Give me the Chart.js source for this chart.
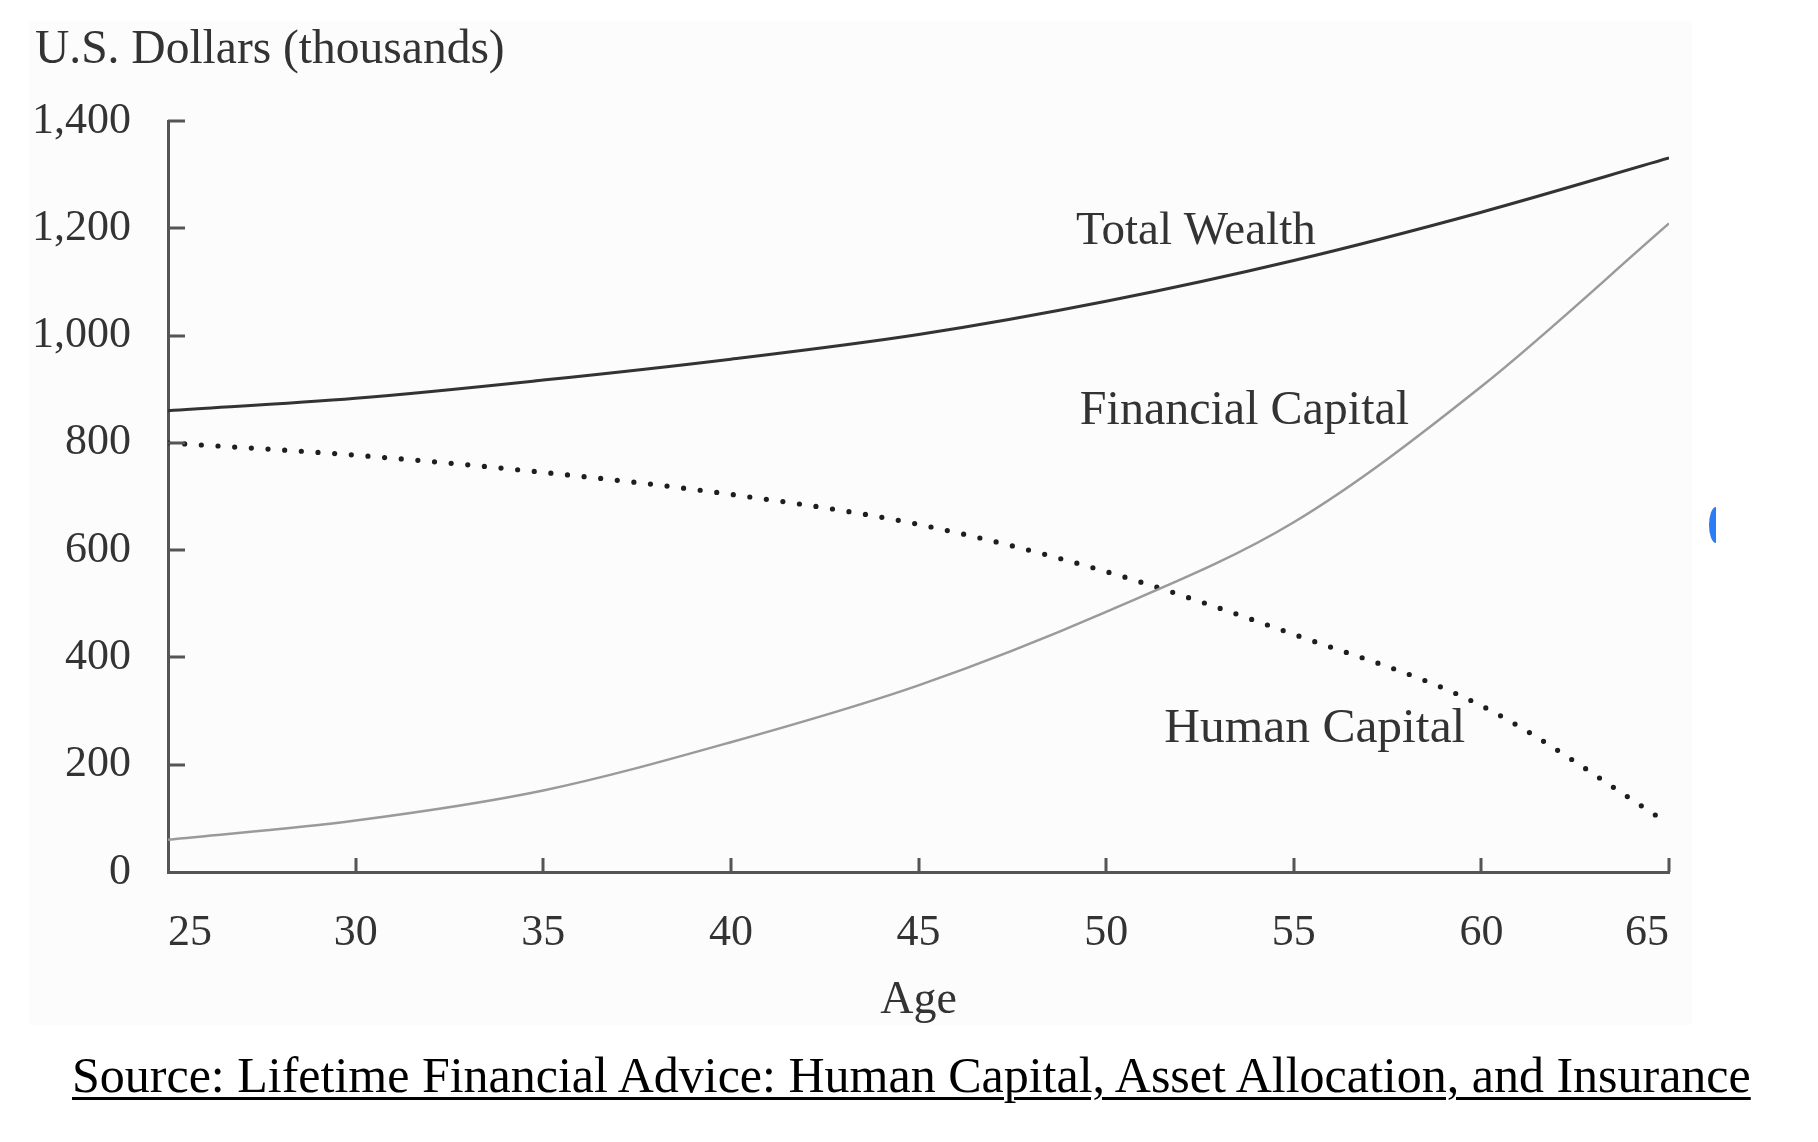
<!DOCTYPE html>
<html lang="en">
<head>
<meta charset="utf-8">
<title>Total Wealth, Financial Capital and Human Capital by Age</title>
<script src="https://cdn.jsdelivr.net/npm/chart.js@4.4.1/dist/chart.umd.min.js"></script>
<style>
  html, body {
    margin: 0;
    padding: 0;
    background: #ffffff;
    width: 1818px;
    height: 1142px;
    overflow: hidden;
    font-family: "Liberation Serif", "DejaVu Serif", serif;
  }
  .figure__bg {
    position: absolute;
    left: 29px;
    top: 21px;
    width: 1663px;
    height: 1004px;
    background: #fcfcfc;
  }
  #wealth-chart {
    position: absolute;
    left: 0;
    top: 0;
  }
  .figure__unit {
    position: absolute;
    left: 35px;
    top: 24px;
    font-size: 47.5px;
    line-height: 47.5px;
    color: #333333;
    white-space: nowrap;
  }
  .figure__source {
    position: absolute;
    left: 72px;
    top: 1050px;
    font-size: 50px;
    line-height: 50px;
    color: #000000;
    white-space: nowrap;
    text-decoration: underline;
    text-decoration-thickness: 3px;
    text-underline-offset: 5px;
  }
  .figure__mark {
    position: absolute;
    left: 1709px;
    top: 507px;
    width: 7px;
    height: 36px;
    background: #2b7cf6;
    border-radius: 7px 0 0 7px / 18px 0 0 18px;
  }
</style>
</head>
<body>
<div class="figure__bg"></div>
<canvas id="wealth-chart" width="1818" height="1040"></canvas>
<div class="figure__unit">U.S. Dollars (thousands)</div>
<div class="figure__mark"></div>
<div class="figure__source">Source: Lifetime Financial Advice: Human Capital, Asset Allocation, and Insurance</div>

<script>
// Values (U.S. dollars, thousands)
const ages = [25, 30, 35, 40, 45, 50, 55, 60, 65];
const totalWealth = [860, 883, 917, 956, 1002, 1064, 1140, 1230, 1331];
const financialCapital = [60, 96, 152, 242, 348, 485, 652, 905, 1209];
const humanCapital = [800, 777, 745, 704, 648, 560, 443, 310, 90];

const ageTicks = [25, 30, 35, 40, 45, 50, 55, 60, 65];
const dollarTicks = [0, 200, 400, 600, 800, 1000, 1200, 1400];

// Curve labels, anchored in data units (age, value at text baseline)
const curveLabels = [
  { text: "Total Wealth", age: 49.2, value: 1170, size: 47 },
  { text: "Financial Capital", age: 49.3, value: 836, size: 48 },
  { text: "Human Capital", age: 51.55, value: 243, size: 49.5 },
];

const SERIF = '"Liberation Serif", "DejaVu Serif", serif';
const AXIS_COLOR = "#555555";
const TEXT_COLOR = "#333333";

document.addEventListener("DOMContentLoaded", () => {
  initializeWealthChart();
});

function toPoints(values) {
  return ages.map((age, i) => ({ x: age, y: values[i] }));
}

// Tick marks point into the plot, as in the printed figure
const innerTicksPlugin = {
  id: "innerTicks",
  afterDatasetsDraw(chart) {
    const { ctx, scales } = chart;
    const xScale = scales.x;
    const yScale = scales.y;
    ctx.save();
    ctx.strokeStyle = AXIS_COLOR;
    ctx.lineWidth = 3;
    ctx.lineCap = "butt";

    dollarTicks.forEach((value) => {
      if (value === 0) return;
      const y = Math.round(yScale.getPixelForValue(value));
      ctx.beginPath();
      ctx.moveTo(xScale.left, y);
      ctx.lineTo(xScale.left + 17, y);
      ctx.stroke();
    });

    ageTicks.forEach((age) => {
      if (age === ageTicks[0]) return;
      const x = Math.round(xScale.getPixelForValue(age));
      ctx.beginPath();
      ctx.moveTo(x, yScale.bottom);
      ctx.lineTo(x, yScale.bottom - 14);
      ctx.stroke();
    });
    ctx.restore();
  },
};

const curveLabelsPlugin = {
  id: "curveLabels",
  afterDatasetsDraw(chart) {
    const { ctx, scales } = chart;
    ctx.save();
    ctx.fillStyle = TEXT_COLOR;
    ctx.textAlign = "left";
    ctx.textBaseline = "alphabetic";
    curveLabels.forEach((label) => {
      ctx.font = label.size + "px " + SERIF;
      ctx.fillText(
        label.text,
        scales.x.getPixelForValue(label.age),
        scales.y.getPixelForValue(label.value)
      );
    });
    ctx.restore();
  },
};

function initializeWealthChart() {
  const canvas = document.getElementById("wealth-chart");
  if (!canvas || typeof Chart === "undefined") return;

  new Chart(canvas, {
    type: "line",
    data: {
      datasets: [
        {
          label: "Total Wealth",
          data: toPoints(totalWealth),
          borderColor: "#333333",
          borderWidth: 3,
          pointRadius: 0,
          cubicInterpolationMode: "monotone",
          fill: false,
        },
        {
          label: "Financial Capital",
          data: toPoints(financialCapital),
          borderColor: "#9a9a9a",
          borderWidth: 2.5,
          pointRadius: 0,
          cubicInterpolationMode: "monotone",
          fill: false,
        },
        {
          label: "Human Capital",
          data: toPoints(humanCapital),
          borderColor: "#1e1e1e",
          borderWidth: 5.2,
          borderDash: [0, 16.7],
          borderCapStyle: "round",
          pointRadius: 0,
          cubicInterpolationMode: "monotone",
          fill: false,
        },
      ],
    },
    options: {
      responsive: false,
      devicePixelRatio: 1,
      animation: false,
      layout: {
        padding: { left: 0, top: 121, right: 149, bottom: 0 },
      },
      plugins: {
        legend: { display: false },
        tooltip: { enabled: false },
      },
      scales: {
        x: {
          type: "linear",
          min: ages[0],
          max: ages[ages.length - 1],
          afterFit: (scale) => {
            scale.height = 168;
          },
          afterBuildTicks: (scale) => {
            scale.ticks = ageTicks.map((value) => ({ value }));
          },
          grid: { display: false, drawTicks: false },
          border: { display: true, color: AXIS_COLOR, width: 3 },
          ticks: {
            color: TEXT_COLOR,
            font: { family: SERIF, size: 44 },
            padding: 35,
            align: "inner",
            maxRotation: 0,
            autoSkip: false,
          },
          title: {
            display: true,
            text: "Age",
            color: TEXT_COLOR,
            font: { family: SERIF, size: 46 },
            padding: { top: 0, bottom: 11 },
          },
        },
        y: {
          type: "linear",
          min: dollarTicks[0],
          max: dollarTicks[dollarTicks.length - 1],
          afterFit: (scale) => {
            scale.width = 168;
          },
          afterBuildTicks: (scale) => {
            scale.ticks = dollarTicks.map((value) => ({ value }));
          },
          grid: { display: false, drawTicks: false },
          border: { display: true, color: AXIS_COLOR, width: 3 },
          ticks: {
            color: TEXT_COLOR,
            font: { family: SERIF, size: 44 },
            padding: 37,
            autoSkip: false,
            callback: (value) => value.toLocaleString("en-US"),
          },
        },
      },
    },
    plugins: [innerTicksPlugin, curveLabelsPlugin],
  });
}
</script>
</body>
</html>
